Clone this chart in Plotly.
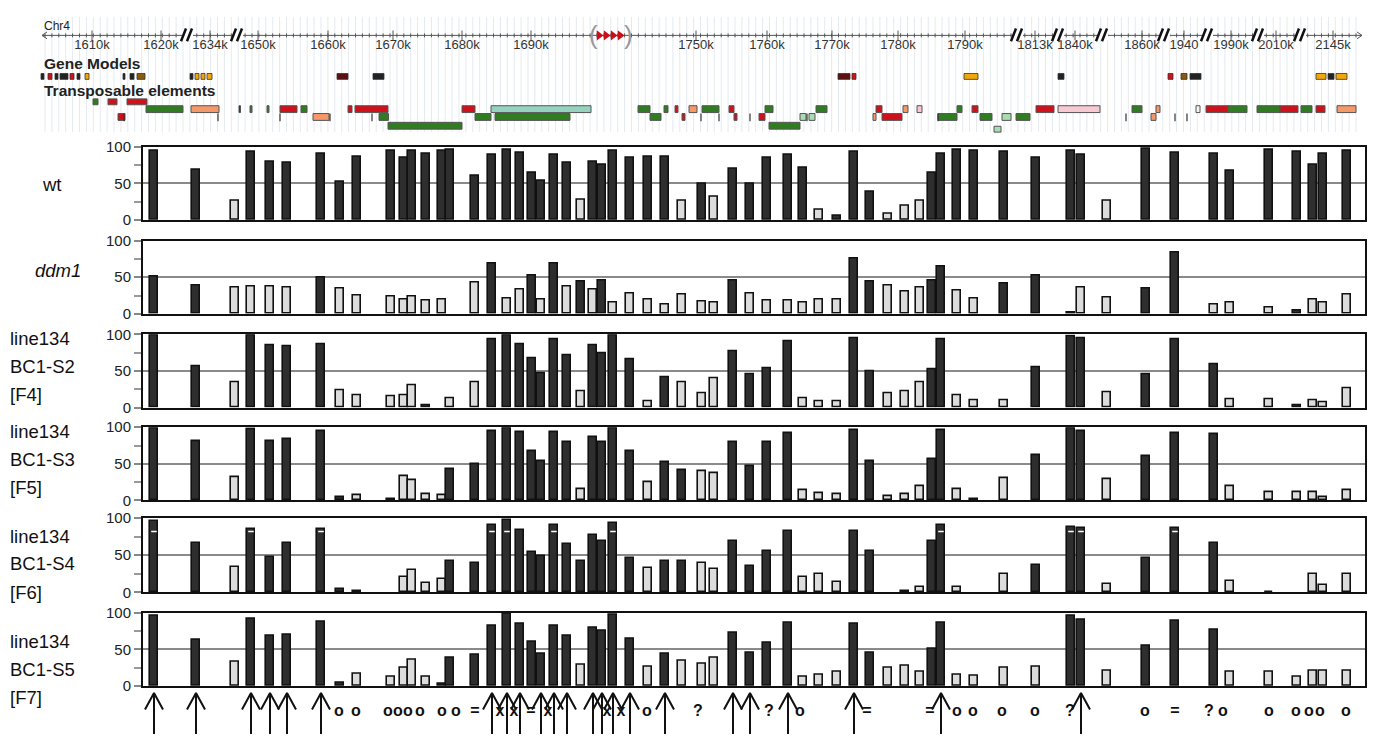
import plotly.graph_objects as go

W, H = 1386, 742
FONT = "Liberation Sans, Arial, sans-serif"
NARROW = "Liberation Sans Narrow, Arial Narrow, Liberation Sans, Arial, sans-serif"

# ---------------- bar-chart data (63 loci, track coordinates) ----------------
locus_pos = [154, 196, 235, 251, 270, 287, 321, 340, 357, 391,
             404, 412, 426, 442, 450, 475, 492, 507, 520, 532,
             541, 554, 567, 581, 593, 602, 613, 630, 648, 665,
             682, 702, 714, 733, 750, 767, 788, 803, 819, 837,
             854, 870, 888, 905, 920, 932, 941, 957, 974, 1004,
             1036, 1071, 1081, 1107, 1146, 1175, 1214, 1230, 1269, 1297,
             1313, 1323, 1347]

wt_vals = [95, 69, 27, 93, 80, 78, 91, 52, 86, 95,
           85, 95, 90, 94, 96, 60, 89, 96, 92, 65,
           54, 89, 78, 28, 80, 76, 95, 85, 87, 86,
           27, 50, 32, 70, 49, 85, 89, 71, 14, 6,
           93, 38, 8, 20, 26, 64, 91, 96, 95, 93,
           85, 94, 89, 26, 97, 92, 91, 67, 96, 93,
           75, 90, 95]
wt_cls = "ddlddddddd dddddddddd dddldddddd ldldddddld ddlllddddd dddldddddd ddd"

ddm1_vals = [51, 38, 36, 37, 37, 36, 50, 34, 25, 24,
             20, 23, 18, 20, None, 43, 68, 21, 33, 52,
             20, 68, 37, 44, 33, 46, 16, 28, 20, 13,
             27, 17, 16, 46, 28, 18, 18, 16, 20, 20,
             76, 44, 39, 30, 36, 45, 64, 32, 21, 41,
             52, 2, 36, 22, 35, 84, 13, 15, 9, 4,
             19, 16, 26]
ddm1_cls = "ddlllldlll llll-ldlld ldldldllll llldllllll ddlllddlld ddllddllld lll"

s2_vals = [98, 56, 35, 98, 85, 83, 86, 23, 17, 15,
           17, 31, 3, None, 12, 35, 93, 98, 86, 67,
           47, 93, 72, 22, 85, 74, 98, 66, 8, 41,
           35, 20, 40, 77, 46, 54, 90, 12, 9, 9,
           95, 49, 19, 22, 34, 52, 93, 17, 10, 10,
           55, 97, 94, 21, 45, 93, 59, 11, 11, 3,
           10, 7, 26]
s2_cls = "ddlddddlll lld-lldddd dddlddddld lllddddlll ddlllddlll dddldddlld lll"

s3_vals = [99, 81, 32, 97, 81, 83, 95, 4, 7, 2,
           33, 28, 8, 7, 43, 50, 94, 99, 93, 67,
           53, 93, 79, 16, 87, 79, 99, 67, 25, 52,
           41, 40, 37, 80, 47, 79, 92, 14, 10, 9,
           96, 53, 6, 9, 19, 56, 96, 15, 2, 31,
           62, 99, 94, 29, 60, 92, 91, 20, 11, 11,
           11, 5, 14]
s3_cls = "ddldddddld lllldddddd dddlddddld dllddddlll ddlllddldl dddldddlll lll"

s4_vals = [96, 67, 34, 85, 48, 66, 85, 4, 2, None,
           20, 30, 13, 18, 42, 40, 90, 97, 84, 54,
           49, 90, 65, 42, 77, 69, 93, 46, 33, 42,
           42, 40, 31, 69, 36, 55, 83, 20, 25, 14,
           82, 56, None, 2, 7, 69, 90, 7, None, 25,
           37, 88, 86, 11, 46, 86, 66, 15, 1, None,
           25, 10, 25]
s4_cls = "ddldddddd- lllldddddd ddddddddld dllddddlll dd-dlddl-l dddldddll- lll"
s4_mark_cols = [1, 4, 7, 17, 18, 22, 27, 47, 52, 53, 56]
s4_mark_level = 82

s5_vals = [96, 63, 33, 92, 69, 70, 88, 4, 17, 13,
           25, 36, 12, 3, 39, 43, 82, 99, 85, 60,
           44, 82, 69, 29, 80, 75, 97, 64, 26, 44,
           35, 30, 39, 73, 45, 59, 87, 13, 15, 19,
           85, 46, 25, 28, 20, 51, 86, 16, 14, 25,
           26, 96, 90, 21, 55, 89, 77, 20, 20, 13,
           21, 21, 21]
s5_cls = "ddldddddll lllddddddd dddlddddld lllddddlll ddlllddlll lddldddlll lll"

panel_vals = [wt_vals, ddm1_vals, s2_vals, s3_vals, s4_vals, s5_vals]
panel_cls = [wt_cls, ddm1_cls, s2_cls, s3_cls, s4_cls, s5_cls]
panel_labels = [["wt"], ["<i>ddm1</i>"], ["line134", "BC1-S2", "[F4]"],
                ["line134", "BC1-S3", "[F5]"], ["line134", "BC1-S4", "[F6]"],
                ["line134", "BC1-S5", "[F7]"]]
label_x_px = [40, 33, 8, 8, 8, 8]
label_y_px = [[180], [268], [337, 366, 395], [432, 461, 490], [540, 568, 597], [647, 676, 705]]
panel_top_px = [141, 237, 333, 428, 521, 618]
panel_bot_px = [216, 312, 408, 503, 597, 693]

# bottom annotation strip
arrow_cols = [1, 2, 4, 5, 6, 7, 17, 18, 19, 21, 22, 23, 25, 26, 27, 28, 30,
              34, 35, 37, 41, 47, 53]
sym_pos = [339, 356, 388, 398, 408, 420, 442, 456, 475, 500, 514, 531, 548, 607, 621,
           647, 698, 769, 800, 867, 930, 957, 973, 1002, 1035, 1070, 1145, 1175,
           1209, 1223, 1269, 1296, 1309, 1320, 1346]
sym_char = ["o", "o", "o", "o", "o", "o", "o", "o", "=", "x", "x", "=", "x", "x", "x",
            "o", "?", "?", "o", "=", "=", "o", "o", "o", "o", "?", "o", "=",
            "?", "o", "o", "o", "o", "o", "o"]

# ---------------- genome browser data ----------------
axis_tick_pos = [92, 161, 210, 258, 328, 393, 462, 531, 696, 767, 832, 898, 965,
                 1035, 1075, 1142, 1184, 1231, 1276, 1333]
axis_tick_lab = ["1610k", "1620k", "1634k", "1650k", "1660k", "1670k", "1680k", "1690k",
                 "1750k", "1760k", "1770k", "1780k", "1790k", "1813k", "1840k", "1860k",
                 "1940", "1990k", "2010k", "2145k"]
axis_breaks = [187, 237, 1017, 1058, 1102, 1164, 1207, 1258, 1300]
marker_arrows = [599, 606, 613, 620]

gene_x0 = [41, 48, 55, 60, 70, 77, 85, 123, 130, 137, 190, 195, 201, 207, 337, 373,
           838, 852, 964, 1058, 1168, 1181, 1190, 1316, 1328, 1336]
gene_x1 = [44, 52, 58, 68, 74, 80, 89, 125, 134, 145, 193, 199, 205, 212, 348, 384,
           850, 856, 978, 1064, 1173, 1187, 1201, 1326, 1334, 1347]
gene_col = ["K", "R", "K", "K", "R", "K", "O", "K", "K", "B", "K", "O", "O", "O", "D", "K",
            "D", "R", "O", "K", "R", "B", "K", "O", "K", "O"]

te_x0 = [93, 108, 127, 146, 191, 118, 239, 250, 267, 280, 301, 313, 348, 355, 379, 388,
         462, 475, 491, 495, 638, 650, 664, 675, 682, 689, 702, 729, 734, 759, 765, 769,
         800, 809, 816, 873, 876, 882, 903, 917, 938, 957, 972, 980, 994, 1002, 1016, 1036,
         1058, 1132, 1151, 1156, 1196, 1206, 1228, 1257, 1280, 1301, 1316, 1337]
te_x1 = [98, 117, 147, 183, 219, 125, 240.5, 252, 269, 297, 307, 329, 352, 388, 388.5, 462,
         475, 491, 591, 570, 650, 661, 668, 678, 685, 697, 719, 734, 737, 765, 773, 800,
         806, 815, 827, 876, 882, 902, 908, 922, 957, 962, 978, 992, 1001, 1011, 1030, 1054,
         1100, 1142, 1156, 1160, 1200, 1228, 1247, 1280, 1298, 1312, 1325, 1356]
te_row = [0, 0, 0, 1, 1, 2, 1, 1, 1, 1, 1, 2, 1, 1, 2, 3,
          1, 2, 1, 2, 1, 2, 1, 1, 2, 1, 1, 1, 2, 2, 1, 3,
          2, 2, 1, 2, 1, 2, 1, 1, 2, 1, 1, 2, 4, 2, 2, 1,
          1, 1, 2, 1, 1, 1, 1, 1, 1, 1, 1, 1]
te_col = ["G", "R", "R", "G", "S", "R", "K", "G", "G", "R", "G", "S", "R", "R", "G", "G",
          "R", "G", "T", "G", "G", "G", "G", "R", "R", "S", "G", "R", "R", "R", "G", "G",
          "L", "L", "G", "S", "R", "R", "S", "P", "G", "G", "R", "G", "L", "L", "G", "R",
          "P", "G", "S", "S", "W", "R", "G", "G", "R", "G", "R", "S"]
te_ticks = [124, 218, 280, 330, 372, 701, 719, 750, 807, 938, 1126, 1175, 1187]

PALETTE = {"G": "#2f7d20", "R": "#d0101a", "S": "#f5986a", "T": "#95d2bf", "P": "#f7c9d2",
           "L": "#a9dcb0", "K": "#222222", "O": "#f0a70c", "D": "#5c1010", "B": "#8a5a10",
           "W": "#f4f4f4"}
ROW_Y = {0: (92, 98), 1: (99, 106), 2: (107, 114), 3: (116, 123), 4: (120, 126)}

DARK, LIGHT = "#2e2e2e", "#dcdcdc"

fig = go.Figure()
layout = dict(width=W, height=H, margin=dict(l=0, r=0, t=0, b=0),
              paper_bgcolor="white", plot_bgcolor="rgba(0,0,0,0)", showlegend=False,
              font=dict(family=FONT, color="#222"), bargap=0)
annotations = []
shapes = []

# ---------------- bar panels ----------------
for i in range(6):
    n = i + 1
    sfx = "" if n == 1 else str(n)
    vals = panel_vals[i]
    cls = panel_cls[i].replace(" ", "")
    assert len(vals) == len(locus_pos) == len(cls)
    colors = [DARK if c == "d" else LIGHT for c in cls]
    fig.add_trace(go.Bar(x=locus_pos, y=vals, width=8,
                         marker=dict(color=colors, line=dict(color="#111", width=1.6)),
                         xaxis="x" + sfx, yaxis="y" + sfx, hoverinfo="skip"))
    top, bot = panel_top_px[i], panel_bot_px[i]
    layout["xaxis" + sfx] = dict(domain=[143 / W, 1365 / W], range=[143, 1365], anchor="y" + sfx,
                                 showline=True, mirror=True, linecolor="#111", linewidth=2,
                                 showticklabels=False, ticks="", showgrid=False, zeroline=False)
    layout["yaxis" + sfx] = dict(domain=[1 - bot / H, 1 - top / H], range=[0, 100], anchor="x" + sfx,
                                 showline=True, mirror=True, linecolor="#111", linewidth=2,
                                 tickvals=[0, 50, 100], ticks="outside", ticklen=7, tickwidth=2,
                                 tickcolor="#888", showgrid=True, gridcolor="#8a8a8a", gridwidth=2,
                                 zeroline=False, tickfont=dict(size=15, color="#222"),
                                 minor=dict(tickvals=[25, 75], ticks="outside", ticklen=7,
                                            tickwidth=2, tickcolor="#999", showgrid=False))
    for txt, ypx in zip(panel_labels[i], label_y_px[i]):
        annotations.append(dict(text=txt, x=label_x_px[i] / W, y=1 - ypx / H, xref="paper",
                                yref="paper", xanchor="left", yanchor="middle", showarrow=False,
                                font=dict(size=18.5, color="#111", family=FONT)))

# white marks in BC1-S4 panel
fig.add_trace(go.Scatter(x=[locus_pos[c - 1] for c in s4_mark_cols],
                         y=[s4_mark_level] * len(s4_mark_cols), mode="markers",
                         marker=dict(symbol="line-ew", size=4, line=dict(color="white", width=1.5)),
                         xaxis="x5", yaxis="y5", hoverinfo="skip"))

# ---------------- browser axes ----------------
layout["xaxis7"] = dict(domain=[0, 1], range=[0, W], anchor="y7", visible=False)
layout["yaxis7"] = dict(domain=[1 - 130 / H, 1], range=[130, 0], anchor="x7", visible=False)
layout["yaxis8"] = dict(domain=[0, 1 - 695 / H], range=[H, 695], anchor="x7", visible=False)

# faint vertical stripes
stripe_x = [45 + 6.9 * k for k in range(191)]
sx, sy = [], []
for xv in stripe_x:
    sx += [xv, xv, None]
    sy += [8, 126, None]
fig.add_trace(go.Scatter(x=sx, y=sy, mode="lines", line=dict(color="#e4eaf1", width=1),
                         xaxis="x7", yaxis="y7", hoverinfo="skip"))

# axis line with ticks
ax_x, ax_y = [42, 1362, None], [27, 27, None]
for xv in stripe_x:
    ax_x += [xv, xv, None]
    ax_y += [25, 29, None]
for xv in axis_tick_pos:
    ax_x += [xv, xv, None]
    ax_y += [22, 32, None]
ax_x += [47, 42, 47, None, 1357, 1362, 1357]
ax_y += [23.5, 27, 30.5, None, 23.5, 27, 30.5]
fig.add_trace(go.Scatter(x=ax_x, y=ax_y, mode="lines", line=dict(color="#555", width=1),
                         xaxis="x7", yaxis="y7", hoverinfo="skip"))
fig.add_trace(go.Scatter(x=axis_tick_pos, y=[38] * len(axis_tick_pos), text=axis_tick_lab,
                         mode="text", textfont=dict(size=13, color="#333", family=NARROW),
                         xaxis="x7", yaxis="y7", hoverinfo="skip"))
fig.add_trace(go.Scatter(x=marker_arrows, y=[27] * len(marker_arrows), mode="markers",
                         marker=dict(symbol="triangle-right", size=9, color="#c8101a"),
                         xaxis="x7", yaxis="y7", hoverinfo="skip"))
for xv, t in [(593, "("), (628, ")")]:
    annotations.append(dict(text=t, x=xv, y=27, xref="x7", yref="y7", showarrow=False,
                            font=dict(size=26, color="#999", family=FONT)))

# break marks
for bx in axis_breaks:
    shapes.append(dict(type="rect", xref="x7", yref="y7", x0=bx - 5, x1=bx + 6, y0=22, y1=32,
                       line=dict(width=0), fillcolor="white"))
    for off in (-4, 2):
        shapes.append(dict(type="line", xref="x7", yref="y7", x0=bx + off - 2, x1=bx + off + 3,
                           y0=33, y1=20, line=dict(color="#111", width=2.5)))

# gene models and TEs
for x0, x1, c in zip(gene_x0, gene_x1, gene_col):
    shapes.append(dict(type="rect", xref="x7", yref="y7", x0=x0, x1=x1, y0=66, y1=72,
                       fillcolor=PALETTE[c], line=dict(color="#333", width=0.8)))
for x0, x1, r, c in zip(te_x0, te_x1, te_row, te_col):
    y0, y1 = ROW_Y[r]
    shapes.append(dict(type="rect", xref="x7", yref="y7", x0=x0, x1=x1, y0=y0, y1=y1,
                       fillcolor=PALETTE[c], line=dict(color="#555", width=1)))
for xv in te_ticks:
    shapes.append(dict(type="line", xref="x7", yref="y7", x0=xv, x1=xv, y0=107, y1=115,
                       line=dict(color="#333", width=1.2)))

for txt, ypx, sz, bold in [("Chr4", 17, 12, False), ("Gene Models", 56, 15.5, True),
                           ("Transposable elements", 83, 15.5, True)]:
    annotations.append(dict(text="<b>" + txt + "</b>" if bold else txt, x=42, y=ypx,
                            xref="x7", yref="y7", xanchor="left", yanchor="middle",
                            showarrow=False, font=dict(size=sz, color="#222", family=NARROW)))

# ---------------- bottom arrows and symbols ----------------
arx, ary = [], []
for c in arrow_cols:
    xv = locus_pos[c - 1]
    arx += [xv, xv, None, xv - 9, xv, xv + 9, None]
    ary += [H, 700, None, 717, 700, 717, None]
fig.add_trace(go.Scatter(x=arx, y=ary, mode="lines", line=dict(color="#111", width=2),
                         xaxis="x7", yaxis="y8", hoverinfo="skip"))
fig.add_trace(go.Scatter(x=sym_pos, y=[719] * len(sym_pos), text=sym_char, mode="text",
                         textfont=dict(size=16, color="#111", family=FONT, weight="bold"),
                         xaxis="x7", yaxis="y8", hoverinfo="skip"))

layout["annotations"] = annotations
layout["shapes"] = shapes
fig.update_layout(**layout)
fig.write_html("out.html")
